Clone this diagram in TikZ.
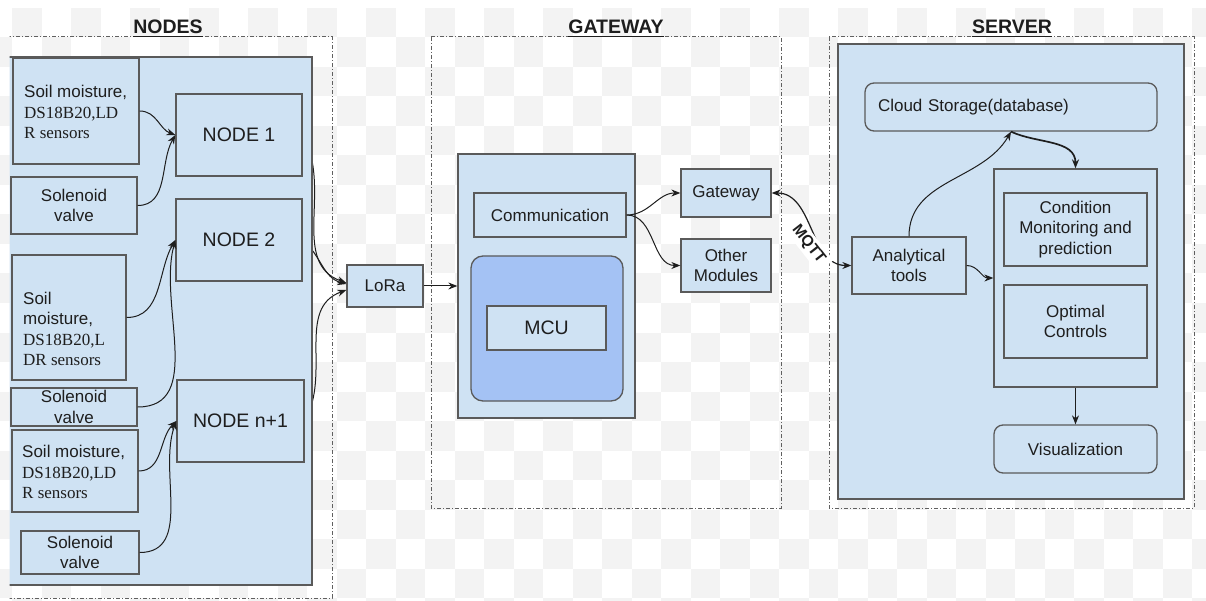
\documentclass[tikz,border=0pt]{standalone}
\usepackage{fontspec}
\setmainfont{Liberation Sans}
\newfontfamily\serifface{Liberation Serif}
\usetikzlibrary{arrows.meta}

\definecolor{boxfill}{HTML}{CFE2F3}
\definecolor{mcufill}{HTML}{A4C2F4}
\definecolor{edgegray}{HTML}{5A5A5A}
\definecolor{ink}{HTML}{1E1E1E}
\definecolor{checker}{HTML}{F3F3F3}
\definecolor{framegray}{HTML}{606060}

\pgfdeclarelayer{checkers}
\pgfdeclarelayer{hidden}
\pgfsetlayers{checkers,hidden,main}

\newcommand\bodysize{\fontsize{17}{20.5}\selectfont}
\newcommand\titlesize{\fontsize{19.5}{23}\selectfont}

\begin{document}
\begin{tikzpicture}[x=1pt,y=1pt,
  box/.style={draw=edgegray, fill=boxfill, line width=1.3pt, inner sep=0pt,
              text=ink, font=\bodysize, align=center},
  rbox/.style={box, rounded corners=9pt},
  bigtext/.style={font=\titlesize},
  frame/.style={draw=framegray, line width=1pt,
                dash pattern=on 4pt off 2pt on 1pt off 2pt},
  heading/.style={font=\titlesize\bfseries, text=ink, anchor=base, inner sep=0pt},
  underl/.style={draw=ink, line width=1.4pt},
  conn/.style={draw=ink, line width=1pt, -{Stealth[length=9pt,width=7pt]}},
  biconn/.style={draw=ink, line width=1.2pt,
                 {Stealth[length=9pt,width=7pt]}-{Stealth[length=9pt,width=7pt]}},
  senstext/.style={font=\bodysize, text=ink, align=left, anchor=west, inner sep=0pt},
  mqtt/.style={font=\fontsize{15.5}{18}\selectfont\bfseries, text=ink, fill=white,
               inner xsep=6pt, inner ysep=3pt}
]
\useasboundingbox (0,0) rectangle (1206,-601);

% light checkered backdrop
\begin{pgfonlayer}{checkers}
  \fill[white] (0,0) rectangle (1206,-601);
  \foreach \r in {0,...,20}{
    \foreach \c in {0,...,41}{
      \pgfmathtruncatemacro\cellodd{mod(\r+\c,2)}
      \ifnum\cellodd=1
        \fill[checker] (-17.5+29.5*\c,-8-29.5*\r) rectangle ++(29.5,-29.5);
      \fi
    }
  }
\end{pgfonlayer}

\begin{scope}
\clip (9.5,0) rectangle (1206,-601);

% ---------------- NODES ----------------
\draw[frame] (2,-37) rectangle (332,-598);
\node[heading] (hnodes) at (168,-34) {NODES};
\draw[underl] ([yshift=-2.5pt]hnodes.base west) -- ([yshift=-2.5pt]hnodes.base east);
\node[box, minimum width=307pt, minimum height=528pt] (nodesbg) at (158.5,-321) {};

\node[box, minimum width=126pt, minimum height=106pt] (sens1) at (76,-111) {};
\node[senstext] (sens1t) at (24,-112) {Soil moisture,\\{\serifface DS18B20,LD}\\{\serifface R sensors}};
\node[box, minimum width=126pt, minimum height=57pt] (sol1) at (74,-205.5) {Solenoid\\valve};
\node[box, bigtext, minimum width=126pt, minimum height=82pt] (node1) at (239,-135) {NODE 1};
\node[box, bigtext, minimum width=126pt, minimum height=82pt] (node2) at (239,-240) {NODE 2};

\node[box, minimum width=114pt, minimum height=125pt] (sens2) at (69,-317.5) {};
\node[senstext] (sens2t) at (23,-329) {Soil\\moisture,\\{\serifface DS18B20,L}\\{\serifface DR sensors}};
\node[box, minimum width=126pt, minimum height=38pt] (sol2) at (74,-407) {Solenoid\\valve};

\node[box, minimum width=126pt, minimum height=82pt] (sens3) at (75,-471) {};
\node[senstext] (sens3t) at (22,-472) {Soil moisture,\\{\serifface DS18B20,LD}\\{\serifface R sensors}};
\node[box, minimum width=118pt, minimum height=43pt] (sol3) at (80,-552.5) {Solenoid\\valve};
\node[box, bigtext, minimum width=127pt, minimum height=82pt] (noden) at (240.5,-421) {NODE n+1};

\draw[conn] (sens1.east) to[out=0,in=160] (node1.west);
\draw[conn] (sol1.east) to[out=0,in=240] (node1.west);
\draw[conn] (sens2.east) to[out=0,in=240] (node2.west);
\draw[conn] (sol2.east) to[out=0,in=255] (node2.west);
\draw[conn] (sens3.east) to[out=0,in=225] (noden.west);
\draw[conn] (sol3.east) to[out=0,in=250] (noden.west);

\node[box, minimum width=76pt, minimum height=42pt] (lora) at (385,-286) {LoRa};

% the node links run beneath the NODES panel
\begin{pgfonlayer}{hidden}
  \draw[conn] (node1.east) to[out=-60,in=160] ([yshift=3pt]lora.west);
  \draw[conn] (node2.east) to[out=-40,in=165] ([yshift=2pt]lora.west);
  \draw[conn] (noden.east) to[out=60,in=200] ([yshift=-4pt]lora.west);
\end{pgfonlayer}

% ---------------- GATEWAY ----------------
\draw[frame] (431,-37) rectangle (781,-508);
\node[heading] (hgate) at (616,-34) {GATEWAY};
\draw[underl] ([yshift=-2.5pt]hgate.base west) -- ([yshift=-2.5pt]hgate.base east);

\node[box, minimum width=177pt, minimum height=264pt] (gwbg) at (546.5,-286) {};
\node[box, minimum width=152pt, minimum height=44pt] (comm) at (550,-215) {Communication};
\node[box, fill=mcufill, rounded corners=12pt, minimum width=152pt, minimum height=145pt] (mcuarea) at (547,-328.5) {};
\node[box, bigtext, minimum width=119pt, minimum height=44pt] (mcu) at (546.5,-328) {MCU};
\node[box, minimum width=90pt, minimum height=48pt] (gw) at (726,-193) {Gateway};
\node[box, minimum width=90pt, minimum height=53pt] (other) at (726,-265.5) {Other\\Modules};

\draw[conn] (lora.east) -- (gwbg.west);
\draw[conn] (comm.east) to[out=0,in=180] (gw.west);
\draw[conn] (comm.east) to[out=0,in=180] (other.west);

% ---------------- SERVER ----------------
\draw[frame] (829,-37) rectangle (1194,-508);
\node[heading] (hserv) at (1012,-34) {SERVER};
\draw[underl] ([yshift=-2.5pt]hserv.base west) -- ([yshift=-2.5pt]hserv.base east);

\node[box, minimum width=346pt, minimum height=455pt] (srvbg) at (1011,-271.5) {};
\node[rbox, text width=266pt, align=left, minimum width=292pt, minimum height=48pt] (cloud) at (1011,-107) {Cloud Storage(database)};
\node[box, minimum width=163pt, minimum height=218pt] (group) at (1075.5,-278) {};
\node[box, minimum width=143pt, minimum height=73pt] (cond) at (1075.5,-229.5) {Condition\\Monitoring and\\prediction};
\node[box, minimum width=143pt, minimum height=73pt] (optc) at (1075.5,-321.5) {Optimal\\Controls};
\node[rbox, minimum width=163pt, minimum height=48pt] (vis) at (1075.5,-449) {Visualization};
\node[box, minimum width=114pt, minimum height=57pt] (ana) at (909,-265.5) {Analytical\\tools};

\draw[conn] (ana.north) to[out=90,in=240] (cloud.south);
\draw[conn, line width=1.7pt] (cloud.south) to[out=-25,in=90] (group.north);
\draw[conn] (ana.east) to[out=0,in=180] (group.west);
\draw[conn] (group.south) -- (vis.north);

% MQTT link between gateway and server
\draw[biconn] (gw.east) to[out=0,in=180]
  node[mqtt, pos=0.5, xshift=-3pt, yshift=-15pt, rotate=-52] (mqttlbl) {MQTT} (ana.west);
\end{scope}
\end{tikzpicture}
\end{document}
